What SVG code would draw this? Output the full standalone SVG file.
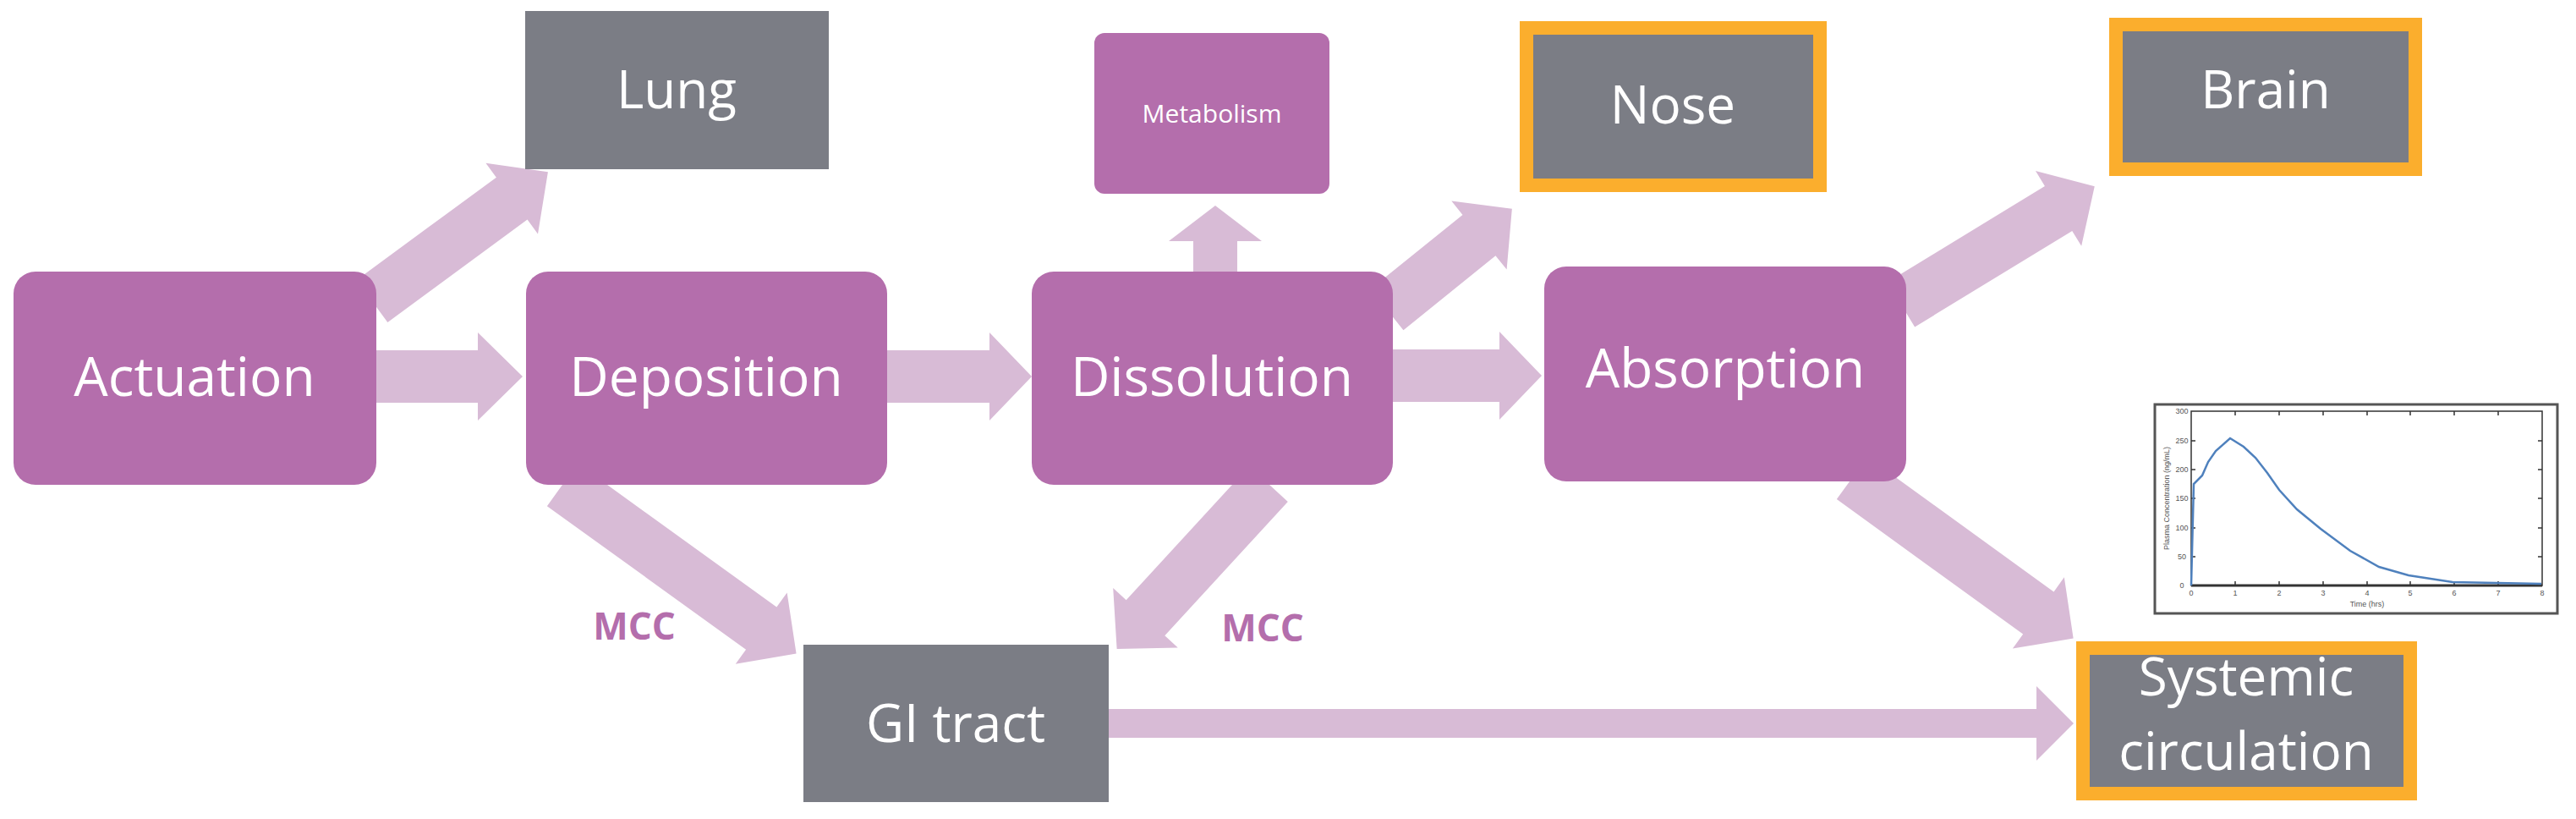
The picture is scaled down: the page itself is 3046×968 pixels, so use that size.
<svg xmlns="http://www.w3.org/2000/svg" width="3046" height="968" viewBox="0 0 3046 968">
<style>
.p{fill:#B46EAC}
.g{fill:#7B7D85}
.o{fill:#7B7D85;stroke:#FBAE2D;stroke-width:16}
.a{fill:#D8BBD6}
.t{font-family:"Open Sans","DejaVu Sans",sans-serif;fill:#fff;text-anchor:middle}
.m{font-family:"Open Sans","DejaVu Sans",sans-serif;fill:#B46EAC;font-weight:bold;font-size:44px;text-anchor:middle}
.s{font-family:"Liberation Sans",sans-serif;font-size:9px;fill:#555;text-anchor:middle}
</style>
<rect width="3046" height="968" fill="#fff"/>
<g id="connectors" class="a">
<polygon transform="translate(440,356) rotate(-36.3)" points="0,-31 205,-31 205,-52 258,0 205,52 205,31 0,31"/>
<polygon transform="translate(440,445)" points="0,-31 125,-31 125,-52 178,0 125,52 125,31 0,31"/>
<polygon transform="translate(1045,445)" points="0,-31 125,-31 125,-52 175,0 125,52 125,31 0,31"/>
<polygon transform="translate(1437,325) rotate(-90)" points="0,-26 40,-26 40,-55 82,0 40,55 40,26 0,26"/>
<polygon transform="translate(1640,366) rotate(-38.9)" points="0,-31 140,-31 140,-52 190,0 140,52 140,31 0,31"/>
<polygon transform="translate(1643,444)" points="0,-31 130,-31 130,-52 180,0 130,52 130,31 0,31"/>
<polygon transform="translate(1500,572) rotate(132.6)" points="0,-31 215,-31 215,-52 265,0 215,52 215,31 0,31"/>
<polygon transform="translate(665,573) rotate(35.8)" points="0,-31 290,-31 290,-52 341,0 290,52 290,31 0,31"/>
<polygon transform="translate(2248,360) rotate(-31.4)" points="0,-31 218,-31 218,-52 268,0 218,52 218,31 0,31"/>
<polygon transform="translate(2190,565) rotate(35.9)" points="0,-31 272,-31 272,-52 323,0 272,52 272,31 0,31"/>
<polygon transform="translate(1305,855)" points="0,-17 1103,-17 1103,-44 1147,0 1103,44 1103,17 0,17"/>
</g>
<g id="lung"><rect class="g" x="621" y="13" width="359" height="187"/><text class="t" x="800" y="128" font-size="62">Lung</text></g>
<g id="metabolism"><rect class="p" x="1294" y="39" width="278" height="190" rx="12"/><text class="t" x="1433" y="145" font-size="30">Metabolism</text></g>
<g id="nose"><rect class="o" x="1805" y="33" width="347" height="186"/><text class="t" x="1978" y="146" font-size="62">Nose</text></g>
<g id="brain"><rect class="o" x="2502" y="29" width="354" height="171"/><text class="t" x="2679" y="128" font-size="62">Brain</text></g>
<g id="actuation"><rect class="p" x="16" y="321" width="429" height="252" rx="26"/><text class="t" x="230" y="468" font-size="64">Actuation</text></g>
<g id="deposition"><rect class="p" x="622" y="321" width="427" height="252" rx="26"/><text class="t" x="835" y="468" font-size="64">Deposition</text></g>
<g id="dissolution"><rect class="p" x="1220" y="321" width="427" height="252" rx="26"/><text class="t" x="1433" y="468" font-size="64">Dissolution</text></g>
<g id="absorption"><rect class="p" x="1826" y="315" width="428" height="254" rx="26"/><text class="t" x="2040" y="458" font-size="64">Absorption</text></g>
<g id="gi"><rect class="g" x="950" y="762" width="361" height="186"/><text class="t" x="1130" y="877" font-size="62">GI tract</text></g>
<g id="systemic"><rect class="o" x="2463" y="766" width="387" height="172"/><text class="t" x="2656" y="822" font-size="62">Systemic</text><text class="t" x="2656" y="910" font-size="62">circulation</text></g>
<g id="mcc-labels"><text class="m" x="750" y="756">MCC</text><text class="m" x="1493" y="758">MCC</text></g>
<g id="chart">
<rect x="2548" y="478" width="476" height="247" fill="#fff" stroke="#555" stroke-width="3"/>
<rect x="2591" y="486" width="415" height="206" fill="none" stroke="#333" stroke-width="1.5"/>
<path d="M2591 692H3006" stroke="#333" stroke-width="3"/>
<g stroke="#333" stroke-width="1.5">
<path d="M2643 692v-5M2695 692v-5M2747 692v-5M2799 692v-5M2850 692v-5M2902 692v-5M2954 692v-5M2643 486v5M2695 486v5M2747 486v5M2799 486v5M2850 486v5M2902 486v5M2954 486v5"/>
<path d="M2591 658h5M2591 624h5M2591 589h5M2591 555h5M2591 521h5M3006 658h-5M3006 624h-5M3006 589h-5M3006 555h-5M3006 521h-5"/>
</g>
<g class="s"><text x="2591" y="704">0</text><text x="2643" y="704">1</text><text x="2695" y="704">2</text><text x="2747" y="704">3</text><text x="2799" y="704">4</text><text x="2850" y="704">5</text><text x="2902" y="704">6</text><text x="2954" y="704">7</text><text x="3006" y="704">8</text><text x="2799" y="717">Time (hrs)</text>
<text x="2580" y="695">0</text><text x="2580" y="661">50</text><text x="2580" y="627">100</text><text x="2580" y="592">150</text><text x="2580" y="558">200</text><text x="2580" y="524">250</text><text x="2580" y="489">300</text>
<text transform="translate(2565,589) rotate(-90)">Plasma Concentration (ng/mL)</text></g>
<polyline fill="none" stroke="#4F81BD" stroke-width="2.5" points="2591,692 2594,572 2604,562 2611,546 2620,533 2637,518 2653,528 2667,541 2681,559 2695,579 2716,602 2744,625 2779,651 2813,670 2848,680 2900,688 3005,690"/>
</g>
</svg>
